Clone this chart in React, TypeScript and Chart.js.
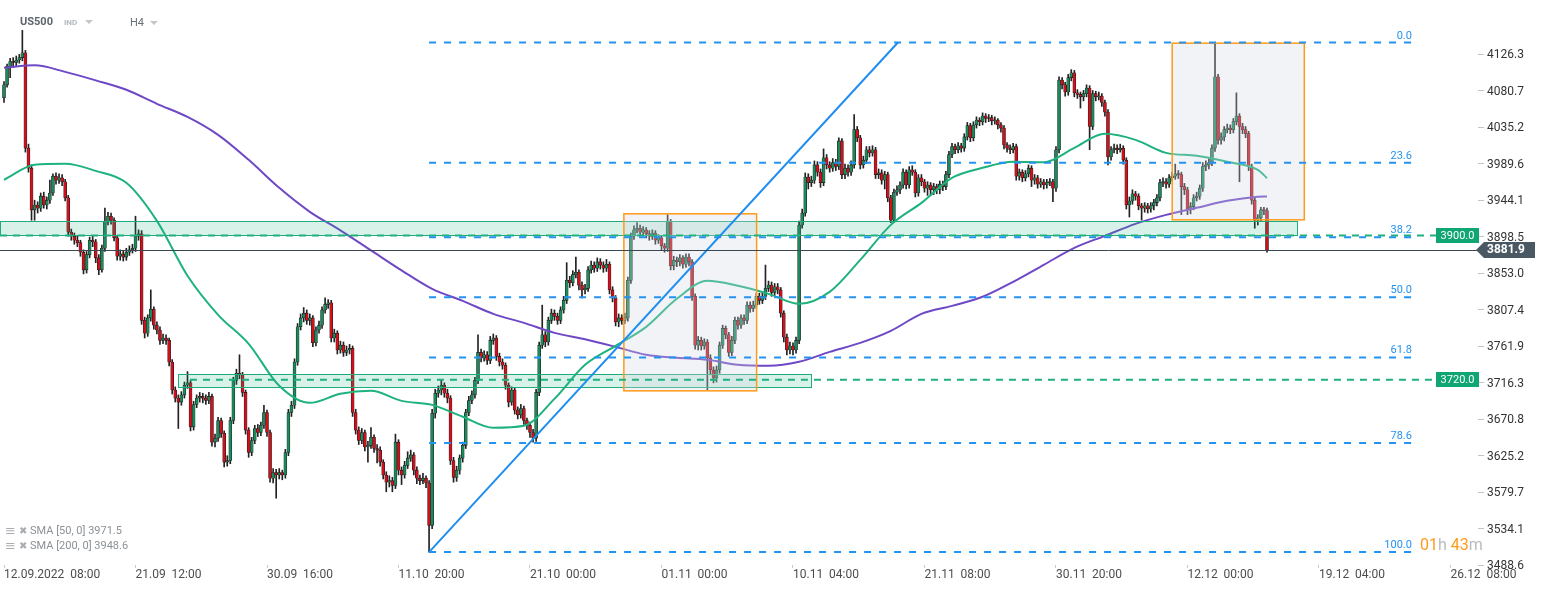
import React, { useEffect, useRef } from 'react';
import { Chart, registerables } from 'chart.js';

Chart.register(...registerables);

// ---------- candle data (H4 bars, index 0 = 12.09.2022 08:00) ----------
const opens = [
  4072, 4088, 4111, 4117, 4116, 4119, 4122, 4128, 4009, 3984,
  3932, 3938, 3934, 3949, 3938, 3944, 3953, 3974, 3969, 3972,
  3967, 3947, 3904, 3899, 3894, 3891, 3879, 3857, 3876, 3894,
  3892, 3872, 3857, 3884, 3917, 3924, 3919, 3897, 3874, 3877,
  3873, 3879, 3882, 3884, 3899, 3902, 3794, 3778, 3797, 3808,
  3788, 3782, 3769, 3772, 3769, 3742, 3707, 3697, 3692, 3701,
  3713, 3716, 3661, 3689, 3697, 3699, 3697, 3694, 3699, 3642,
  3647, 3669, 3653, 3617, 3619, 3669, 3719, 3728, 3726, 3704,
  3657, 3629, 3644, 3659, 3654, 3663, 3679, 3654, 3597, 3604,
  3601, 3604, 3601, 3629, 3679, 3688, 3742, 3786, 3797, 3803,
  3794, 3797, 3766, 3782, 3788, 3807, 3814, 3816, 3772, 3778,
  3757, 3763, 3754, 3757, 3759, 3679, 3657, 3644, 3654, 3636,
  3638, 3648, 3634, 3632, 3617, 3601, 3592, 3594, 3588, 3642,
  3607, 3601, 3613, 3622, 3626, 3607, 3597, 3594, 3597, 3591,
  3538, 3678, 3703, 3707, 3713, 3703, 3697, 3619, 3598, 3607,
  3622, 3638, 3679, 3694, 3701, 3719, 3754, 3747, 3751, 3744,
  3769, 3772, 3749, 3742, 3738, 3713, 3692, 3707, 3682, 3676,
  3684, 3669, 3663, 3654, 3647, 3704, 3763, 3776, 3767, 3794,
  3803, 3799, 3794, 3807, 3819, 3844, 3841, 3851, 3854, 3838,
  3832, 3834, 3857, 3863, 3859, 3867, 3863, 3859, 3864, 3832,
  3822, 3792, 3797, 3794, 3797, 3844, 3899, 3907, 3909, 3904,
  3907, 3902, 3899, 3903, 3894, 3897, 3887, 3884, 3917, 3862,
  3869, 3867, 3872, 3864, 3873, 3867, 3824, 3763, 3769, 3762,
  3767, 3747, 3732, 3722, 3732, 3763, 3784, 3776, 3754, 3769,
  3794, 3788, 3797, 3794, 3813, 3809, 3813, 3824, 3819, 3824,
  3834, 3838, 3829, 3836, 3832, 3803, 3773, 3757, 3762, 3757,
  3769, 3913, 3928, 3973, 3966, 3969, 3988, 3979, 3966, 3997,
  3988, 3984, 3991, 3986, 4018, 3976, 3984, 3979, 3988, 4032,
  4022, 3988, 3994, 4007, 4003, 4007, 3976, 3978, 3969, 3976,
  3947, 3919, 3954, 3957, 3963, 3979, 3963, 3982, 3979, 3953,
  3972, 3967, 3959, 3963, 3957, 3961, 3957, 3964, 3961, 3976,
  4001, 4011, 4007, 4012, 4009, 4023, 4037, 4022, 4038, 4044,
  4042, 4049, 4046, 4047, 4043, 4044, 4038, 4034, 4013, 4009,
  4007, 4011, 3974, 3979, 3972, 3977, 3984, 3969, 3972, 3964,
  3967, 3963, 3966, 3967, 3959, 4007, 4094, 4088, 4079, 4097,
  4103, 4078, 4076, 4073, 4077, 4084, 4036, 4077, 4073, 4074,
  4066, 4054, 3998, 4007, 4009, 4007, 4009, 3994, 3938, 3943,
  3952, 3949, 3937, 3934, 3937, 3933, 3937, 3941, 3947, 3966,
  3967, 3964, 3972, 3974, 3977, 3976, 3961, 3957, 3932, 3936,
  3947, 3949, 3959, 3986, 3988, 3991, 4009, 4098, 4019, 4023,
  4032, 4034, 4032, 4042, 4049, 4036, 4032, 4027, 3986, 3944,
  3919, 3922, 3932, 3931,
];

const highs = [
  4092, 4114, 4121, 4122, 4124, 4126, 4156, 4131, 4014, 3988,
  3944, 3942, 3953, 3954, 3948, 3969, 3977, 3978, 3977, 3976,
  3970, 3950, 3908, 3903, 3899, 3894, 3882, 3880, 3898, 3900,
  3895, 3876, 3888, 3934, 3929, 3928, 3922, 3900, 3882, 3881,
  3884, 3887, 3889, 3924, 3907, 3906, 3798, 3801, 3832, 3811,
  3792, 3786, 3777, 3776, 3772, 3745, 3711, 3701, 3705, 3717,
  3730, 3719, 3693, 3701, 3704, 3703, 3701, 3704, 3702, 3652,
  3673, 3672, 3656, 3625, 3673, 3723, 3733, 3751, 3729, 3707,
  3660, 3648, 3663, 3664, 3667, 3688, 3682, 3657, 3609, 3608,
  3609, 3607, 3633, 3683, 3693, 3746, 3790, 3802, 3810, 3807,
  3802, 3800, 3786, 3793, 3811, 3822, 3820, 3819, 3783, 3781,
  3768, 3767, 3762, 3764, 3762, 3683, 3661, 3659, 3657, 3643,
  3660, 3651, 3639, 3636, 3620, 3605, 3600, 3598, 3652, 3645,
  3611, 3618, 3630, 3632, 3629, 3611, 3601, 3603, 3600, 3594,
  3683, 3708, 3712, 3720, 3716, 3708, 3700, 3623, 3612, 3626,
  3642, 3683, 3699, 3706, 3723, 3776, 3758, 3756, 3755, 3774,
  3777, 3775, 3753, 3746, 3741, 3716, 3711, 3710, 3686, 3689,
  3687, 3672, 3667, 3658, 3708, 3767, 3813, 3780, 3798, 3808,
  3807, 3803, 3811, 3824, 3866, 3849, 3856, 3873, 3857, 3842,
  3839, 3861, 3868, 3867, 3872, 3871, 3867, 3870, 3867, 3836,
  3825, 3802, 3801, 3803, 3848, 3903, 3912, 3916, 3913, 3911,
  3910, 3906, 3907, 3906, 3901, 3900, 3890, 3926, 3920, 3874,
  3873, 3876, 3875, 3877, 3877, 3870, 3827, 3774, 3773, 3771,
  3770, 3751, 3736, 3737, 3767, 3788, 3787, 3779, 3774, 3798,
  3798, 3801, 3801, 3817, 3817, 3818, 3828, 3828, 3829, 3863,
  3843, 3842, 3840, 3840, 3835, 3806, 3777, 3767, 3766, 3773,
  3918, 3933, 3978, 3977, 3974, 3993, 3992, 3983, 4008, 4001,
  3992, 3996, 3995, 4022, 4021, 3989, 3988, 3993, 4051, 4036,
  4025, 3999, 4011, 4011, 4012, 4010, 3983, 3982, 3980, 3979,
  3950, 3958, 3962, 3967, 3983, 3982, 3986, 3987, 3982, 3976,
  3976, 3970, 3967, 3966, 3965, 3964, 3968, 3968, 3980, 4005,
  4015, 4014, 4016, 4015, 4027, 4041, 4040, 4042, 4048, 4047,
  4053, 4052, 4051, 4050, 4048, 4046, 4041, 4037, 4016, 4013,
  4015, 4014, 3983, 3982, 3981, 3988, 3987, 3976, 3975, 3971,
  3970, 3970, 3971, 3970, 4011, 4098, 4097, 4091, 4101, 4107,
  4106, 4082, 4079, 4081, 4088, 4087, 4081, 4080, 4079, 4077,
  4069, 4057, 4011, 4014, 4013, 4014, 4012, 3997, 3948, 3957,
  3955, 3952, 3940, 3941, 3940, 3941, 3945, 3951, 3970, 3972,
  3971, 3976, 3979, 3989, 3981, 3979, 3965, 3960, 3941, 3951,
  3954, 3963, 3991, 3993, 3996, 4013, 4140.8, 4101, 4028, 4036,
  4039, 4038, 4046, 4078, 4052, 4040, 4036, 4030, 3989, 3947,
  3926, 3935, 3935, 3934,
];

const lows = [
  4066, 4085, 4097, 4110, 4112, 4115, 4118, 4004, 3979, 3919,
  3919, 3928, 3930, 3934, 3933, 3940, 3950, 3964, 3965, 3962,
  3943, 3899, 3894, 3889, 3886, 3874, 3852, 3853, 3872, 3886,
  3866, 3851, 3854, 3880, 3913, 3914, 3893, 3869, 3869, 3868,
  3869, 3875, 3878, 3880, 3894, 3789, 3772, 3774, 3793, 3783,
  3777, 3764, 3765, 3764, 3737, 3702, 3692, 3659, 3688, 3697,
  3709, 3656, 3657, 3685, 3692, 3691, 3689, 3690, 3637, 3636,
  3643, 3648, 3611, 3612, 3615, 3665, 3714, 3721, 3699, 3652,
  3623, 3625, 3640, 3649, 3650, 3659, 3649, 3592, 3591, 3572,
  3596, 3595, 3597, 3625, 3674, 3684, 3738, 3782, 3792, 3789,
  3788, 3761, 3762, 3778, 3784, 3803, 3809, 3767, 3767, 3752,
  3753, 3749, 3750, 3752, 3674, 3652, 3639, 3640, 3631, 3617,
  3634, 3629, 3616, 3612, 3596, 3580, 3586, 3580, 3584, 3601,
  3589, 3597, 3609, 3618, 3601, 3590, 3589, 3590, 3585, 3504.7,
  3534, 3672, 3698, 3701, 3698, 3691, 3614, 3592, 3593, 3602,
  3617, 3634, 3675, 3690, 3697, 3715, 3742, 3743, 3739, 3740,
  3764, 3744, 3737, 3733, 3708, 3686, 3688, 3677, 3671, 3672,
  3664, 3658, 3648, 3642, 3643, 3700, 3759, 3761, 3763, 3790,
  3794, 3789, 3790, 3803, 3815, 3835, 3837, 3847, 3832, 3822,
  3827, 3830, 3853, 3854, 3855, 3858, 3854, 3855, 3827, 3817,
  3787, 3786, 3789, 3790, 3793, 3840, 3895, 3903, 3899, 3900,
  3897, 3894, 3895, 3889, 3890, 3882, 3879, 3880, 3857, 3857,
  3861, 3862, 3859, 3860, 3862, 3819, 3758, 3757, 3757, 3758,
  3707, 3726, 3716, 3717, 3728, 3759, 3771, 3749, 3750, 3765,
  3783, 3784, 3789, 3790, 3804, 3805, 3809, 3814, 3815, 3820,
  3830, 3824, 3825, 3827, 3798, 3767, 3751, 3752, 3751, 3753,
  3765, 3909, 3924, 3958, 3961, 3965, 3974, 3960, 3962, 3983,
  3979, 3980, 3981, 3982, 3971, 3971, 3974, 3975, 3984, 4017,
  3983, 3984, 3990, 3998, 3999, 3971, 3971, 3964, 3958, 3942,
  3916, 3916, 3950, 3952, 3959, 3958, 3959, 3975, 3948, 3949,
  3962, 3954, 3950, 3950, 3951, 3952, 3952, 3956, 3957, 3972,
  3997, 4002, 4003, 4004, 4005, 4019, 4017, 4018, 4034, 4037,
  4038, 4041, 4042, 4038, 4039, 4033, 4029, 4008, 4004, 4002,
  4003, 3969, 3969, 3967, 3968, 3973, 3961, 3964, 3959, 3960,
  3958, 3959, 3962, 3942, 3955, 4003, 4083, 4074, 4075, 4093,
  4073, 4071, 4059, 4068, 4073, 4007, 4032, 4068, 4069, 4061,
  4049, 3988, 3994, 4003, 4002, 4004, 3989, 3933, 3923, 3939,
  3944, 3932, 3919, 3929, 3928, 3929, 3932, 3937, 3943, 3961,
  3959, 3960, 3968, 3970, 3971, 3926, 3951, 3926, 3927, 3932,
  3943, 3945, 3955, 3981, 3983, 3987, 4005, 4014, 4014, 4018,
  4028, 4027, 4028, 4038, 3967, 4027, 4022, 3981, 3939, 3909,
  3913, 3918, 3926, 3879,
];

const closes = [
  4088, 4111, 4117, 4116, 4119, 4122, 4128, 4009, 3984, 3932,
  3938, 3934, 3949, 3938, 3944, 3953, 3974, 3969, 3972, 3967,
  3947, 3904, 3899, 3894, 3891, 3879, 3857, 3876, 3894, 3892,
  3872, 3857, 3884, 3917, 3924, 3919, 3897, 3874, 3877, 3873,
  3879, 3882, 3884, 3899, 3902, 3794, 3778, 3797, 3808, 3788,
  3782, 3769, 3772, 3769, 3742, 3707, 3697, 3692, 3701, 3713,
  3716, 3661, 3689, 3697, 3699, 3697, 3694, 3699, 3642, 3647,
  3669, 3653, 3617, 3619, 3669, 3719, 3728, 3726, 3704, 3657,
  3629, 3644, 3659, 3654, 3663, 3679, 3654, 3597, 3604, 3601,
  3604, 3601, 3629, 3679, 3688, 3742, 3786, 3797, 3803, 3794,
  3797, 3766, 3782, 3788, 3807, 3814, 3816, 3772, 3778, 3757,
  3763, 3754, 3757, 3759, 3679, 3657, 3644, 3654, 3636, 3638,
  3648, 3634, 3632, 3617, 3601, 3592, 3594, 3588, 3642, 3607,
  3601, 3613, 3622, 3626, 3607, 3597, 3594, 3597, 3591, 3538,
  3678, 3703, 3707, 3713, 3703, 3697, 3619, 3598, 3607, 3622,
  3638, 3679, 3694, 3701, 3719, 3754, 3747, 3751, 3744, 3769,
  3772, 3749, 3742, 3738, 3713, 3692, 3707, 3682, 3676, 3684,
  3669, 3663, 3654, 3647, 3704, 3763, 3776, 3767, 3794, 3803,
  3799, 3794, 3807, 3819, 3844, 3841, 3851, 3854, 3838, 3832,
  3834, 3857, 3863, 3859, 3867, 3863, 3859, 3864, 3832, 3822,
  3792, 3797, 3794, 3797, 3844, 3899, 3907, 3909, 3904, 3907,
  3902, 3899, 3903, 3894, 3897, 3887, 3884, 3917, 3862, 3869,
  3867, 3872, 3864, 3873, 3867, 3824, 3763, 3769, 3762, 3767,
  3747, 3732, 3722, 3732, 3763, 3784, 3776, 3754, 3769, 3794,
  3788, 3797, 3794, 3813, 3809, 3813, 3824, 3819, 3824, 3834,
  3838, 3829, 3836, 3832, 3803, 3773, 3757, 3762, 3757, 3769,
  3913, 3928, 3973, 3966, 3969, 3988, 3979, 3966, 3997, 3988,
  3984, 3991, 3986, 4018, 3976, 3984, 3979, 3988, 4032, 4022,
  3988, 3994, 4007, 4003, 4007, 3976, 3978, 3969, 3976, 3947,
  3919, 3954, 3957, 3963, 3979, 3963, 3982, 3979, 3953, 3972,
  3967, 3959, 3963, 3957, 3961, 3957, 3964, 3961, 3976, 4001,
  4011, 4007, 4012, 4009, 4023, 4037, 4022, 4038, 4044, 4042,
  4049, 4046, 4047, 4043, 4044, 4038, 4034, 4013, 4009, 4007,
  4011, 3974, 3979, 3972, 3977, 3984, 3969, 3972, 3964, 3967,
  3963, 3966, 3967, 3959, 4007, 4094, 4088, 4079, 4097, 4103,
  4078, 4076, 4073, 4077, 4084, 4036, 4077, 4073, 4074, 4066,
  4054, 3998, 4007, 4009, 4007, 4009, 3994, 3938, 3943, 3952,
  3949, 3937, 3934, 3937, 3933, 3937, 3941, 3947, 3966, 3967,
  3964, 3972, 3974, 3977, 3976, 3961, 3957, 3932, 3936, 3947,
  3949, 3959, 3986, 3988, 3991, 4009, 4098, 4019, 4023, 4032,
  4034, 4032, 4042, 4049, 4036, 4032, 4027, 3986, 3944, 3919,
  3922, 3932, 3931, 3881.9,
];

// ---------- moving averages (sampled at bar indices) ----------
const smaBars = [
  0, 10, 20, 30, 40, 50, 60, 70, 80, 90, 100, 110, 120, 130, 140, 150, 160, 170, 180, 190, 200,
  210, 220, 230, 240, 250, 260, 270, 280, 290, 300, 310, 320, 330, 340, 350, 360, 370, 380, 390,
  400, 410, 413,
];
const sma50 = [
  3969.4, 3988.1, 3989.4, 3980.6, 3965.7, 3918.2, 3849.6, 3800.9, 3764.7, 3712.3, 3691.0,
  3702.3, 3706.0, 3693.5, 3688.5, 3673.6, 3659.8, 3662.3, 3696.0, 3738.5, 3762.2,
  3785.9, 3820.9, 3843.3, 3837.1, 3827.1, 3814.6, 3829.6, 3869.5, 3913.2, 3940.7,
  3971.9, 3984.4, 3991.9, 3991.3, 4009.4, 4026.8, 4019.3, 4003.1, 3999.4, 3991.9,
  3981.9, 3971.5,
];
const sma200 = [
  4109.2, 4112.3, 4104.2, 4093.6, 4081.8, 4064.3, 4048.0, 4025.6, 3994.4, 3959.4, 3929.5,
  3906.4, 3881.4, 3856.4, 3833.3, 3818.4, 3802.1, 3790.9, 3778.4, 3770.3, 3760.9,
  3751.0, 3747.2, 3744.7, 3738.5, 3737.2, 3742.2, 3754.7, 3765.9, 3780.9, 3802.1,
  3812.1, 3823.4, 3842.1, 3863.3, 3884.5, 3899.5, 3914.5, 3925.7, 3934.5, 3943.2,
  3948.2, 3948.6,
];

// ---------- axes ----------
const xMinBar = -1.31;
const xMaxBar = 482;
const xTickBars = [0, 43, 86, 129, 172, 215, 258, 301, 344, 387, 430, 473];
const xTickLabels = [
  '12.09.2022  08:00', '21.09  12:00', '30.09  16:00', '11.10  20:00', '21.10  00:00',
  '01.11  00:00', '10.11  04:00', '21.11  08:00', '30.11  20:00', '12.12  00:00',
  '19.12  04:00', '26.12  08:00',
];
const yMin = 3488.6;
const yMax = 4193.9;
const yTickValues = [
  3488.6, 3534.15, 3579.7, 3625.25, 3670.8, 3716.35, 3761.9, 3807.45, 3853.0, 3898.55,
  3944.1, 3989.65, 4035.2, 4080.75, 4126.3,
];
const yTickLabels = [
  '3488.6', '3534.1', '3579.7', '3625.2', '3670.8', '3716.3', '3761.9', '3807.4', '3853.0',
  '3898.5', '3944.1', '3989.6', '4035.2', '4080.7', '4126.3',
];

// ---------- drawings ----------
const fibLevels = [0, 23.6, 38.2, 50, 61.8, 78.6, 100];
const fibHigh = 4140.8;
const fibLow = 3504.7;
const fibFromBar = 139;
const fibToBar = 460.4;

const trendBars = [139, 292.3];
const trendPrices = [3504.7, 4140.8];

const zoneLevels = [3900.0, 3720.0];
const zoneFromBars = [-1.31, 56.9];
const zoneToBars = [423.2, 264.1];
const zoneTops = [3918.2, 3726.9];
const zoneBottoms = [3900.0, 3711.4];
const zoneDashFromBars = [-1.31, 60.8];

const boxFromBars = [202.7, 382.0];
const boxToBars = [246.1, 425.2];
const boxTops = [3927.0, 4140.0];
const boxBottoms = [3706.0, 3919.5];

const lastPrice = 3881.9;
const smaLegend = ['SMA [50, 0] 3971.5', 'SMA [200, 0] 3948.6'];

const GREEN = '#1a8a5c';
const RED = '#d2101c';
const FONT = 'Roboto, "Noto Sans", "DejaVu Sans", sans-serif';

const overlayPlugin = {
  id: 'overlayDrawings',
  afterDatasetsDraw(chart: any) {
    const { ctx, chartArea: ca } = chart;
    const xs = chart.scales.x;
    const ys = chart.scales.y;
    const px = (v: number) => xs.getPixelForValue(v);
    const py = (v: number) => ys.getPixelForValue(v);
    const tagW = 43;
    const tagLeft = ca.right - 42;

    ctx.save();
    ctx.beginPath();
    ctx.rect(ca.left, ca.top, ca.right - ca.left, ca.bottom - ca.top);
    ctx.clip();

    // support/resistance zones
    for (let i = 0; i < zoneLevels.length; i++) {
      const x0 = Math.round(px(zoneFromBars[i]));
      const x1 = Math.round(px(zoneToBars[i]));
      const yt = Math.round(py(zoneTops[i]));
      const yb = Math.round(py(zoneBottoms[i]));
      ctx.fillStyle = 'rgba(30, 178, 122, 0.17)';
      ctx.fillRect(x0, yt, x1 - x0, yb - yt);
      ctx.strokeStyle = '#1fab7c';
      ctx.lineWidth = 1;
      ctx.setLineDash([]);
      ctx.strokeRect(x0 + 0.5, yt + 0.5, x1 - x0 - 1, yb - yt);
    }

    // orange rectangles
    for (let i = 0; i < boxFromBars.length; i++) {
      const x0 = px(boxFromBars[i]);
      const x1 = px(boxToBars[i]);
      const yt = py(boxTops[i]);
      const yb = py(boxBottoms[i]);
      ctx.fillStyle = 'rgba(208, 214, 224, 0.3)';
      ctx.fillRect(x0, yt, x1 - x0, yb - yt);
      ctx.strokeStyle = '#ff9a1a';
      ctx.lineWidth = 1.5;
      ctx.strokeRect(x0, yt, x1 - x0, yb - yt);
    }

    // dashed zone levels
    ctx.setLineDash([7, 6]);
    ctx.lineWidth = 2;
    ctx.strokeStyle = '#1fb07f';
    for (let i = 0; i < zoneLevels.length; i++) {
      const y = py(zoneLevels[i]);
      ctx.beginPath();
      ctx.moveTo(px(zoneDashFromBars[i]), y);
      ctx.lineTo(tagLeft, y);
      ctx.stroke();
    }

    // fibonacci retracement
    ctx.strokeStyle = '#2393f2';
    ctx.setLineDash([7, 8]);
    ctx.lineWidth = 2;
    const fx0 = px(fibFromBar);
    const fx1 = px(fibToBar);
    fibLevels.forEach((lvl) => {
      const y = py(fibHigh - ((fibHigh - fibLow) * lvl) / 100);
      ctx.beginPath();
      ctx.moveTo(fx0, y);
      ctx.lineTo(fx1, y);
      ctx.stroke();
    });
    ctx.setLineDash([]);
    ctx.fillStyle = '#2393f2';
    ctx.font = '11px ' + FONT;
    ctx.textAlign = 'right';
    ctx.textBaseline = 'alphabetic';
    fibLevels.forEach((lvl) => {
      const y = py(fibHigh - ((fibHigh - fibLow) * lvl) / 100);
      ctx.fillText(lvl.toFixed(1), fx1, y - 4);
    });

    // trend line
    ctx.strokeStyle = '#1f8ef0';
    ctx.lineWidth = 2;
    ctx.beginPath();
    ctx.moveTo(px(trendBars[0]), py(trendPrices[0]));
    ctx.lineTo(px(trendBars[1]), py(trendPrices[1]));
    ctx.stroke();

    // last price line
    const lp = Math.round(py(lastPrice)) + 0.5;
    ctx.strokeStyle = '#3b4852';
    ctx.lineWidth = 1;
    ctx.beginPath();
    ctx.moveTo(ca.left, lp);
    ctx.lineTo(ca.right, lp);
    ctx.stroke();
    ctx.restore();

    // level tags
    ctx.save();
    ctx.font = '11px ' + FONT;
    ctx.textAlign = 'center';
    ctx.textBaseline = 'middle';
    for (let i = 0; i < zoneLevels.length; i++) {
      const y = py(zoneLevels[i]);
      ctx.fillStyle = '#10a673';
      ctx.fillRect(tagLeft, Math.round(y - 7.5), tagW, 15);
      ctx.fillStyle = '#ffffff';
      ctx.fillText(zoneLevels[i].toFixed(1), tagLeft + tagW / 2, y + 0.5);
    }
    // last price tag
    const ly = py(lastPrice);
    ctx.fillStyle = '#4a5863';
    ctx.beginPath();
    ctx.moveTo(ca.right - 2, ly);
    ctx.lineTo(ca.right + 6, ly - 8);
    ctx.lineTo(ca.right + 57, ly - 8);
    ctx.lineTo(ca.right + 57, ly + 8);
    ctx.lineTo(ca.right + 6, ly + 8);
    ctx.closePath();
    ctx.fill();
    ctx.fillStyle = '#ffffff';
    ctx.font = 'bold 12px ' + FONT;
    ctx.textAlign = 'left';
    ctx.fillText(lastPrice.toFixed(1), ca.right + 9, ly + 0.5);
    ctx.restore();
  },
};

export default function App() {
  const canvasRef = useRef<HTMLCanvasElement | null>(null);

  useEffect(() => {
    document.body.style.margin = '0';
    const canvas = canvasRef.current;
    if (!canvas) return;
    const idx = closes.map((_, i) => i);
    const wickData = idx.map((i) => ({ x: i, y: [lows[i], highs[i]] }));
    const bodyData = idx.map((i) => ({
      x: i,
      y: [Math.min(opens[i], closes[i]), Math.max(opens[i], closes[i])],
    }));
    const bodyColors = idx.map((i) => (closes[i] >= opens[i] ? GREEN : RED));

    const chart = new Chart(canvas, {
      type: 'bar',
      data: {
        datasets: [
          {
            type: 'line',
            label: 'SMA 50',
            data: smaBars.map((b, i) => ({ x: b, y: sma50[i] })),
            borderColor: '#1eb27d',
            borderWidth: 2,
            pointRadius: 0,
            cubicInterpolationMode: 'monotone',
            order: 0,
          },
          {
            type: 'line',
            label: 'SMA 200',
            data: smaBars.map((b, i) => ({ x: b, y: sma200[i] })),
            borderColor: '#6f48c6',
            borderWidth: 2,
            pointRadius: 0,
            cubicInterpolationMode: 'monotone',
            order: 0,
          },
          {
            type: 'bar',
            label: 'bodies',
            data: bodyData,
            backgroundColor: bodyColors,
            borderColor: '#1c1c1c',
            borderWidth: 0.6,
            borderSkipped: false,
            barThickness: 3,
            minBarLength: 1,
            grouped: false,
            order: 1,
          },
          {
            type: 'bar',
            label: 'wicks',
            data: wickData,
            backgroundColor: '#222222',
            barThickness: 1,
            grouped: false,
            order: 2,
          },
        ],
      } as any,
      options: {
        animation: false,
        responsive: false,
        maintainAspectRatio: false,
        events: [],
        layout: { padding: 0 },
        plugins: { legend: { display: false }, tooltip: { enabled: false } },
        scales: {
          x: {
            type: 'linear',
            min: xMinBar,
            max: xMaxBar,
            offset: false,
            border: { display: false },
            grid: { drawOnChartArea: false, tickLength: 3, color: '#c9c9c9', offset: false },
            ticks: {
              autoSkip: false,
              maxRotation: 0,
              minRotation: 0,
              align: 'start',
              padding: 0,
              color: '#4d4d4d',
              font: { family: FONT, size: 12 },
              callback: (_v: any, i: number) => xTickLabels[i],
            },
            afterBuildTicks: (scale: any) => {
              scale.ticks = xTickBars.map((v) => ({ value: v }));
            },
            afterFit: (scale: any) => {
              scale.height = 25;
              scale.paddingLeft = 0;
              scale.paddingRight = 0;
            },
          },
          y: {
            type: 'linear',
            position: 'right',
            min: yMin,
            max: yMax,
            border: { display: false },
            grid: { drawOnChartArea: false, tickLength: 6, color: '#c4c4c4' },
            ticks: {
              autoSkip: false,
              padding: 3,
              labelOffset: 1,
              color: '#333333',
              font: { family: FONT, size: 12 },
              callback: (_v: any, i: number) => yTickLabels[i],
            },
            afterBuildTicks: (scale: any) => {
              scale.ticks = yTickValues.map((v) => ({ value: v }));
            },
            afterFit: (scale: any) => {
              scale.width = 68;
              scale.paddingTop = 0;
              scale.paddingBottom = 0;
            },
          },
        },
      } as any,
      plugins: [overlayPlugin],
    });
    return () => chart.destroy();
  }, []);

  const abs = (extra: any) => ({ position: 'absolute', ...extra });
  const tri = (left: number, top: number) => (
    <div
      style={abs({
        left,
        top,
        width: 0,
        height: 0,
        borderLeft: '4px solid transparent',
        borderRight: '4px solid transparent',
        borderTop: '4px solid #c3c7cb',
      })}
    />
  );

  return (
    <div
      style={{
        position: 'fixed',
        left: 0,
        top: 0,
        width: 1546,
        height: 590,
        background: '#ffffff',
        overflow: 'hidden',
        fontFamily: FONT,
      }}
    >
      <canvas
        ref={canvasRef}
        width={1546}
        height={590}
        style={{ position: 'absolute', left: 0, top: 0, width: 1546, height: 590 }}
      />
      <div style={abs({ left: 20, top: 15, fontSize: 11, fontWeight: 700, color: '#5d646b', lineHeight: '14px' })}>
        US500
      </div>
      <div style={abs({ left: 64, top: 18, fontSize: 8, fontWeight: 700, color: '#b3b8bd', lineHeight: '9px' })}>
        IND
      </div>
      {tri(85, 20)}
      <div style={abs({ left: 130, top: 16, fontSize: 11, color: '#6a7077', lineHeight: '14px' })}>H4</div>
      {tri(150, 21)}

      {smaLegend.map((t, i) => (
        <div
          key={t}
          style={abs({
            left: 5,
            top: 524 + i * 14.5,
            fontSize: 11,
            lineHeight: '14px',
            color: '#8c9196',
            whiteSpace: 'pre',
            display: 'flex',
            alignItems: 'center',
          })}
        >
          <span style={{ fontSize: 13, color: '#a9adb1', width: 14 }}>≡</span>
          <span style={{ fontSize: 10, color: '#a9adb1', width: 11 }}>✖</span>
          <span>{t}</span>
        </div>
      ))}

      <div style={abs({ left: 1420, top: 536, fontSize: 16, lineHeight: '18px', whiteSpace: 'pre' })}>
        <span style={{ color: '#ff9a1a' }}>01</span>
        <span style={{ color: '#b9bcc0' }}>h </span>
        <span style={{ color: '#ff9a1a' }}>43</span>
        <span style={{ color: '#b9bcc0' }}>m</span>
      </div>
    </div>
  );
}
